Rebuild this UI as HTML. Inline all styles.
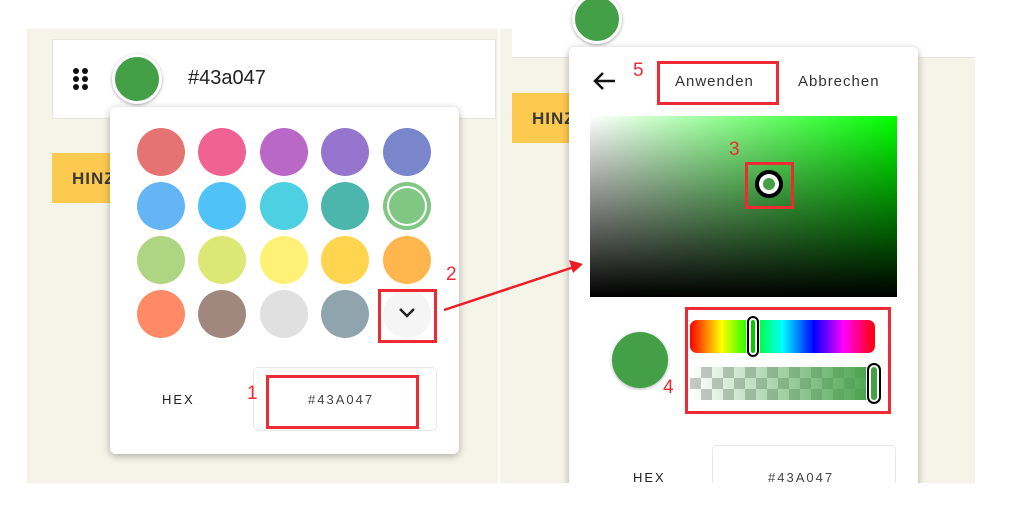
<!DOCTYPE html>
<html><head><meta charset="utf-8"><style>
*{margin:0;padding:0;box-sizing:border-box}
body{width:1022px;height:523px;background:#fff;position:relative;overflow:hidden;font-family:"Liberation Sans",sans-serif}
.a{position:absolute}
.c{position:absolute;width:48px;height:48px;border-radius:50%}
.rb{position:absolute;border:3px solid #ee2a35}
.num{position:absolute;color:#ee2a35;font-size:19px}
.hinz{background:#fdc94f;color:#3a3a3a;font-weight:bold;font-size:17px;padding:16px 0 0 20px;letter-spacing:1px}
</style></head><body>
<!-- left -->
<div class="a" style="left:27px;top:29px;width:471px;height:454px;background:#f4f4e8"></div>
<div class="a" style="left:52px;top:39px;width:444px;height:80px;background:#fff;border:1px solid #e6e6dc"></div>
<svg class="a" style="left:72px;top:67px" width="18" height="24"><g fill="#111"><circle cx="4" cy="4" r="3"/><circle cx="13" cy="4" r="3"/><circle cx="4" cy="12" r="3"/><circle cx="13" cy="12" r="3"/><circle cx="4" cy="20" r="3"/><circle cx="13" cy="20" r="3"/></g></svg>
<div class="a" style="left:112px;top:54px;width:50px;height:50px;border-radius:50%;background:#43a047;border:3px solid #fff;box-shadow:0 1px 3px rgba(0,0,0,.35)"></div>
<div class="a" style="left:188px;top:67px;font-size:20px;color:#222">#43a047</div>
<div class="a hinz" style="left:52px;top:153px;width:70px;height:50px">HINZ</div>
<div class="a" style="left:110px;top:107px;width:349px;height:347px;background:#fff;border-radius:6px;box-shadow:0 2px 8px rgba(0,0,0,.3)"></div>
<div class="c" style="left:137px;top:128px;background:#e57373"></div>
<div class="c" style="left:198px;top:128px;background:#f06292"></div>
<div class="c" style="left:260px;top:128px;background:#ba68c8"></div>
<div class="c" style="left:321px;top:128px;background:#9575cd"></div>
<div class="c" style="left:383px;top:128px;background:#7986cb"></div>
<div class="c" style="left:137px;top:182px;background:#64b5f6"></div>
<div class="c" style="left:198px;top:182px;background:#4fc3f7"></div>
<div class="c" style="left:260px;top:182px;background:#4dd0e1"></div>
<div class="c" style="left:321px;top:182px;background:#4db6ac"></div>
<div class="c" style="left:383px;top:182px;background:#81c784;box-shadow:inset 0 0 0 4px #81c784,inset 0 0 0 6px #fff"></div>
<div class="c" style="left:137px;top:236px;background:#aed581"></div>
<div class="c" style="left:198px;top:236px;background:#dce775"></div>
<div class="c" style="left:260px;top:236px;background:#fff176"></div>
<div class="c" style="left:321px;top:236px;background:#ffd54f"></div>
<div class="c" style="left:383px;top:236px;background:#ffb74d"></div>
<div class="c" style="left:137px;top:290px;background:#ff8a65"></div>
<div class="c" style="left:198px;top:290px;background:#a1887f"></div>
<div class="c" style="left:260px;top:290px;background:#e0e0e0"></div>
<div class="c" style="left:321px;top:290px;background:#90a4ae"></div>
<div class="c" style="left:383px;top:290px;background:#f5f5f5"></div>
<svg class="a" style="left:398px;top:307px" width="18" height="12"><path d="M2 2 L9 9 L16 2" stroke="#222" stroke-width="2.5" fill="none"/></svg>
<div class="rb" style="left:378px;top:289px;width:59px;height:54px"></div>
<div class="num" style="left:446px;top:264px">2</div>
<div class="a" style="left:162px;top:392px;font-size:13px;letter-spacing:2px;color:#222">HEX</div>
<div class="a" style="left:253px;top:367px;width:184px;height:64px;border:1px solid #e8e8e8;border-radius:5px"></div>
<div class="rb" style="left:266px;top:375px;width:153px;height:54px"></div>
<div class="num" style="left:247px;top:383px">1</div>
<div class="a" style="left:308px;top:392px;font-size:13px;letter-spacing:2px;color:#444">#43A047</div>
<!-- right -->
<div class="a" style="left:500px;top:29px;width:475px;height:454px;background:#f4f4e8"></div>
<div class="a" style="left:512px;top:0;width:463px;height:58px;background:#fff;border-bottom:1px solid #e6e6dc"></div>
<div class="a" style="left:572px;top:-6px;width:50px;height:50px;border-radius:50%;background:#43a047;border:3px solid #fff;box-shadow:0 1px 3px rgba(0,0,0,.35)"></div>
<div class="a hinz" style="left:512px;top:93px;width:70px;height:50px">HINZ</div>
<div class="a" style="left:569px;top:47px;width:349px;height:460px;background:#fff;border-radius:6px;box-shadow:0 2px 8px rgba(0,0,0,.3)"></div>
<svg class="a" style="left:591px;top:70px" width="26" height="22"><path d="M24 11 H4 M12 3 L4 11 L12 19" stroke="#111" stroke-width="2.5" fill="none"/></svg>
<div class="num" style="left:633px;top:60px">5</div>
<div class="rb" style="left:657px;top:61px;width:122px;height:44px"></div>
<div class="a" style="left:675px;top:73px;font-size:15px;letter-spacing:1px;color:#333">Anwenden</div>
<div class="a" style="left:798px;top:73px;font-size:15px;letter-spacing:1px;color:#333">Abbrechen</div>
<div class="a" style="left:590px;top:116px;width:307px;height:181px;background:linear-gradient(to top,#000,rgba(0,0,0,0)),linear-gradient(to right,#fff,#0f0)"></div>
<div class="num" style="left:729px;top:139px">3</div>
<div class="rb" style="left:745px;top:162px;width:49px;height:47px"></div>
<div class="a" style="left:755px;top:170px;width:28px;height:28px;border-radius:50%;background:#43a047;border:4px solid #000;box-shadow:inset 0 0 0 4px #fff"></div>
<div class="a" style="left:612px;top:332px;width:56px;height:56px;border-radius:50%;background:#43a047;box-shadow:0 1px 3px rgba(0,0,0,.3)"></div>
<div class="rb" style="left:685px;top:307px;width:206px;height:107px"></div>
<div class="a" style="left:690px;top:320px;width:185px;height:33px;border-radius:7px;background:linear-gradient(to right,#f00,#ff0 17%,#0f0 33%,#0ff 50%,#00f 67%,#f0f 83%,#f00)"></div>
<div class="a" style="left:747px;top:316px;width:12px;height:41px;border-radius:6px;background:#0c0;border:2px solid #000;box-shadow:0 0 0 1px #fff,inset 0 0 0 2px #fff"></div>
<div class="a" style="left:690px;top:367px;width:190px;height:33px;background:linear-gradient(to right,rgba(67,160,71,0),#43a047),repeating-conic-gradient(#c8c8c8 0 25%,#fff 0 50%) 0 0/22px 22px"></div>
<div class="a" style="left:867px;top:363px;width:14px;height:41px;border-radius:7px;background:#43a047;border:2px solid #000;box-shadow:0 0 0 1px #fff,inset 0 0 0 2px #fff"></div>
<div class="num" style="left:663px;top:377px">4</div>
<div class="a" style="left:633px;top:470px;font-size:13px;letter-spacing:2px;color:#222">HEX</div>
<div class="a" style="left:712px;top:445px;width:184px;height:50px;border:1px solid #e8e8e8;border-radius:5px;border-bottom:none"></div>
<div class="a" style="left:768px;top:470px;font-size:13px;letter-spacing:2px;color:#444">#43A047</div>
<div class="a" style="left:0;top:483px;width:1022px;height:40px;background:#fff"></div>
<svg class="a" style="left:0;top:0" width="1022" height="523"><line x1="444" y1="310" x2="574" y2="267" stroke="#ee1c25" stroke-width="2.5"/><polygon points="583,264 569,260 573,273" fill="#ee1c25"/></svg>
</body></html>
